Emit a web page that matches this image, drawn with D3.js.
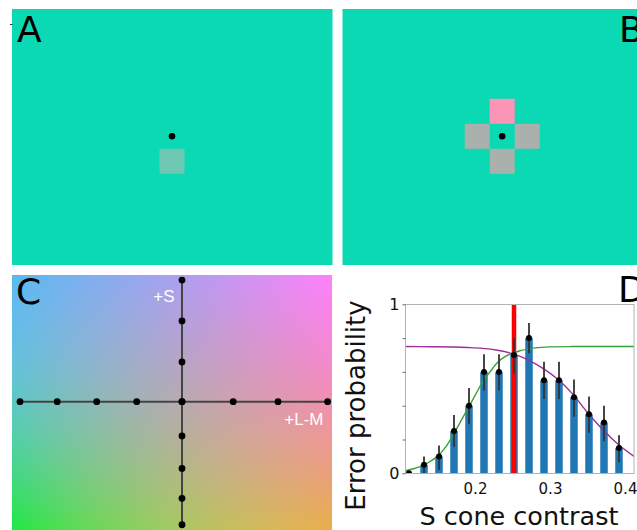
<!DOCTYPE html>
<html>
<head>
<meta charset="utf-8">
<script src="https://cdn.jsdelivr.net/npm/d3@7"></script>
<style>
  body { margin: 0; background: #fff; }
  svg { display: block; }
</style>
</head>
<body>
<script>
// ---------- Panel D data ----------
// S cone contrast levels tested
const contrast = [0.112, 0.132, 0.152, 0.172, 0.192, 0.212, 0.232, 0.252, 0.272, 0.292, 0.312, 0.332, 0.352, 0.372, 0.392];
// observed error probability at each level
const errorProb = [0.0, 0.05, 0.10, 0.25, 0.40, 0.60, 0.60, 0.70, 0.80, 0.55, 0.55, 0.45, 0.35, 0.30, 0.15];
// confidence interval bounds
const errLow  = [0.0, 0.0, 0.02, 0.155, 0.29, 0.49, 0.49, 0.59, 0.71, 0.44, 0.44, 0.335, 0.24, 0.19, 0.065];
const errHigh = [0.0, 0.10, 0.165, 0.345, 0.505, 0.705, 0.705, 0.80, 0.89, 0.66, 0.66, 0.555, 0.455, 0.40, 0.225];
// fitted rising psychometric curve (contrast, probability)
const riseFitX = [0.1076, 0.12, 0.13, 0.14, 0.15, 0.16, 0.17, 0.18, 0.19, 0.20, 0.21, 0.22, 0.23, 0.24, 0.25, 0.26, 0.27, 0.28, 0.30, 0.33, 0.36, 0.412];
const riseFitY = [0.015, 0.03, 0.045, 0.07, 0.10, 0.15, 0.22, 0.30, 0.38, 0.46, 0.54, 0.60, 0.655, 0.69, 0.71, 0.725, 0.735, 0.742, 0.748, 0.75, 0.75, 0.75];
// fitted falling psychometric curve
const fallFitX = [0.1076, 0.14, 0.17, 0.19, 0.21, 0.23, 0.25, 0.27, 0.29, 0.31, 0.33, 0.35, 0.37, 0.39, 0.412];
const fallFitY = [0.75, 0.749, 0.747, 0.744, 0.739, 0.728, 0.708, 0.672, 0.622, 0.558, 0.47, 0.36, 0.26, 0.175, 0.10];
// threshold marker
const threshold = 0.252;
const xTicks = [0.2, 0.3, 0.4];
const yTicks = [0, 0.2, 0.4, 0.6, 0.8, 1];

// ---------- Panel C data ----------
// sampled directions in cone-contrast space
const lmLevels = [-1.0125, -0.78, -0.533, -0.283, 0, 0.32, 0.60, 0.91];
const sLevels = [0.76, 0.505, 0.248, 0, -0.214, -0.417, -0.604, -0.769];

// ---------- Panels A/B stimulus layout (grid units around fixation) ----------
const stimA = [{dx: 0, dy: 1, fill: "#6ec8b3"}];
const stimB = [
  {dx: 0, dy: -1, fill: "#fb95b5"},
  {dx: -1, dy: 0, fill: "#aab1ac"},
  {dx: 1, dy: 0, fill: "#aab1ac"},
  {dx: 0, dy: 1, fill: "#aab1ac"}
];

const W = 637, H = 530;
const teal = "#0bd9b3";
const svg = d3.select("body").append("svg").attr("width", W).attr("height", H);
svg.append("rect").attr("width", W).attr("height", H).attr("fill", "#fff");

// ---------- Panels A and B ----------
function stimulusPanel(px, py, pw, ph, cx, cy, squares) {
  svg.append("rect").attr("x", px).attr("y", py).attr("width", pw).attr("height", ph).attr("fill", teal);
  const gx = d3.scaleLinear().domain([-1, 1]).range([cx - 25, cx + 25]);
  const gy = d3.scaleLinear().domain([-1, 1]).range([cy - 25, cy + 25]);
  svg.selectAll(null).data(squares).join("rect")
    .attr("x", d => gx(d.dx) - 12.5).attr("y", d => gy(d.dy) - 12.5)
    .attr("width", 25).attr("height", 25).attr("fill", d => d.fill);
  svg.append("circle").attr("cx", cx).attr("cy", cy).attr("r", 3.3).attr("fill", "#000");
}
stimulusPanel(12, 9, 320.5, 256, 172, 136.3, stimA);
stimulusPanel(342.5, 9, 300, 256, 502.2, 136.3, stimB);
svg.append("line").attr("x1", 10).attr("x2", 12.5).attr("y1", 24.5).attr("y2", 24.5).attr("stroke", "#333").attr("stroke-width", 1);

// ---------- Panel C: colour space background ----------
const cx0 = 12, cy0 = 275, cw = 320, ch = 255;
const grid = [
  ["#5ab9f0", "#ae9ff0", "#ff80fa"],
  ["#5cc8c4", "#b8aab0", "#f090b0"],
  ["#20e840", "#aac85e", "#e8b048"]
];
const ox = 182 - cx0, oy = 401.7 - cy0;
const canvas = document.createElement("canvas");
canvas.width = cw; canvas.height = ch;
const ctx = canvas.getContext("2d");
const img = ctx.createImageData(cw, ch);
const rgbGrid = grid.map(r => r.map(c => d3.rgb(c)));
// smooth quadratic weights through three nodes (0, mid, 1)
function weights(t, m) {
  return [
    (t - m) * (t - 1) / ((0 - m) * (0 - 1)),
    (t - 0) * (t - 1) / ((m - 0) * (m - 1)),
    (t - 0) * (t - m) / ((1 - 0) * (1 - m))
  ];
}
const mx = ox / cw, my = oy / ch;
for (let j = 0; j < ch; j++) {
  const wy = weights(j / ch, my);
  for (let i = 0; i < cw; i++) {
    const wx = weights(i / cw, mx);
    const k = (j * cw + i) * 4;
    ["r", "g", "b"].forEach((key, n) => {
      let v = 0;
      for (let r = 0; r < 3; r++) for (let c = 0; c < 3; c++) v += wy[r] * wx[c] * rgbGrid[r][c][key];
      img.data[k + n] = Math.max(0, Math.min(255, v));
    });
    img.data[k + 3] = 255;
  }
}
ctx.putImageData(img, 0, 0);
svg.append("image").attr("x", cx0).attr("y", cy0).attr("width", cw).attr("height", ch)
  .attr("href", canvas.toDataURL());

const xc = d3.scaleLinear().domain([0, 1]).range([182, 342]);
const yc = d3.scaleLinear().domain([0, 1]).range([401.7, 241.7]);
svg.append("line").attr("x1", xc(d3.min(lmLevels))).attr("x2", xc(d3.max(lmLevels)))
  .attr("y1", yc(0)).attr("y2", yc(0)).attr("stroke", "#444").attr("stroke-width", 2);
svg.append("line").attr("x1", xc(0)).attr("x2", xc(0))
  .attr("y1", yc(d3.max(sLevels))).attr("y2", yc(d3.min(sLevels))).attr("stroke", "#444").attr("stroke-width", 2);
svg.selectAll(null).data(lmLevels).join("circle")
  .attr("cx", d => xc(d)).attr("cy", yc(0)).attr("r", 3.4).attr("fill", "#000");
svg.selectAll(null).data(sLevels).join("circle")
  .attr("cx", xc(0)).attr("cy", d => yc(d)).attr("r", 3.4).attr("fill", "#000");
svg.append("text").attr("x", 174.5).attr("y", 302.3).attr("text-anchor", "end")
  .attr("font-family", "Liberation Sans, Arial, sans-serif").attr("font-size", 17).attr("fill", "#fff").text("+S");
svg.append("text").attr("x", 323.5).attr("y", 425).attr("text-anchor", "end")
  .attr("font-family", "Liberation Sans, Arial, sans-serif").attr("font-size", 17).attr("fill", "#fff").text("+L-M");

// ---------- Panel D: error probability vs S cone contrast ----------
const font = "DejaVu Sans, sans-serif";
const x = d3.scaleLinear().domain([0.1076, 0.412]).range([405.7, 634]);
const y = d3.scaleLinear().domain([0, 1]).range([473.3, 304.3]);
const bw = x(0.11) - x(0.1);

svg.append("clipPath").attr("id", "clipD").append("rect")
  .attr("x", x.range()[0]).attr("y", y(1)).attr("width", x.range()[1] - x.range()[0]).attr("height", y(0) - y(1));
svg.append("rect").attr("x", 405.5).attr("y", 304.5).attr("width", 228.5).attr("height", 169).attr("fill", "#fff");
const plot = svg.append("g").attr("clip-path", "url(#clipD)");
const pts = contrast.map((c, i) => ({c, p: errorProb[i], lo: errLow[i], hi: errHigh[i]}));

plot.selectAll(null).data(pts).join("rect")
  .attr("x", d => x(d.c) - bw / 2).attr("width", bw)
  .attr("y", d => y(d.p)).attr("height", d => y(0) - y(d.p)).attr("fill", "#1f77b4");

plot.append("line").attr("x1", x(threshold)).attr("x2", x(threshold))
  .attr("y1", y(0)).attr("y2", y(1)).attr("stroke", "#ff0000").attr("stroke-width", 4.5);

const line = d3.line().x(d => x(d[0])).y(d => y(d[1])).curve(d3.curveCatmullRom.alpha(0.5));
plot.append("path").attr("d", line(riseFitX.map((v, i) => [v, riseFitY[i]])))
  .attr("fill", "none").attr("stroke", "#3aa03a").attr("stroke-width", 1.4);
plot.append("path").attr("d", line(fallFitX.map((v, i) => [v, fallFitY[i]])))
  .attr("fill", "none").attr("stroke", "#9b2f9b").attr("stroke-width", 1.4);

plot.selectAll(null).data(pts.filter(d => d.hi > d.lo)).join("line")
  .attr("x1", d => x(d.c)).attr("x2", d => x(d.c))
  .attr("y1", d => y(d.lo)).attr("y2", d => y(d.hi))
  .attr("stroke", "#333").attr("stroke-width", 1.8);
plot.selectAll(null).data(pts).join("circle")
  .attr("cx", d => x(d.c)).attr("cy", d => y(d.p)).attr("r", 3).attr("fill", "#000");

svg.append("rect").attr("x", 405.5).attr("y", 304.5).attr("width", 228.5).attr("height", 169)
  .attr("fill", "none").attr("stroke", "#b3b3b3").attr("stroke-width", 1);

const yAxis = svg.append("g").attr("transform", "translate(405.5,0)")
  .call(d3.axisLeft(y).tickValues(yTicks).tickSize(3).tickPadding(3)
    .tickFormat(d => (d === 0 || d === 1) ? d3.format("d")(d) : ""));
yAxis.select(".domain").remove();
yAxis.selectAll("line").attr("stroke", "#666");
yAxis.selectAll("text").attr("font-family", font).attr("font-size", 16).attr("fill", "#111");

const xAxis = svg.append("g").attr("transform", `translate(0,${y(0)})`)
  .call(d3.axisBottom(x).tickValues(xTicks).tickSize(0).tickPadding(10).tickFormat(d3.format(".1f")));
xAxis.select(".domain").remove();
xAxis.selectAll("text").attr("font-family", font).attr("font-size", 15).attr("fill", "#111");

svg.append("text").attr("transform", "translate(365,405.5) rotate(-90)")
  .attr("text-anchor", "middle").attr("font-family", font).attr("font-size", 26).attr("fill", "#111")
  .text("Error probability");
svg.append("text").attr("x", 519).attr("y", 525).attr("text-anchor", "middle")
  .attr("font-family", font).attr("font-size", 25.5).attr("fill", "#111").text("S cone contrast");

// ---------- Panel letters ----------
const letters = [
  {t: "A", x: 17, y: 41.5},
  {t: "B", x: 619, y: 41.5},
  {t: "C", x: 16, y: 304},
  {t: "D", x: 618, y: 302}
];
svg.selectAll(null).data(letters).join("text")
  .attr("x", d => d.x).attr("y", d => d.y)
  .attr("font-family", font).attr("font-size", 36).attr("fill", "#000").text(d => d.t);
</script>
</body>
</html>
